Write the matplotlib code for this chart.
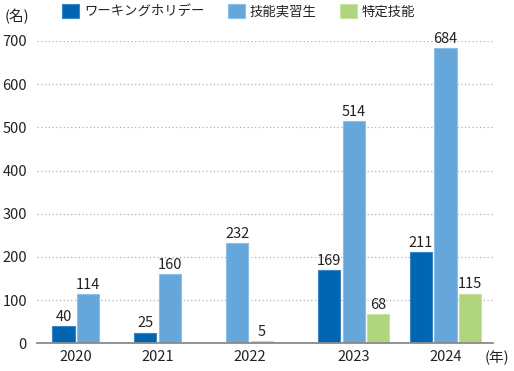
import matplotlib
matplotlib.use("Agg")
import matplotlib.pyplot as plt
from matplotlib.patches import Patch
import numpy as np

plt.rcParams['font.family'] = ['Noto Sans CJK JP', 'DejaVu Sans']

years = ["2020", "2021", "2022", "2023", "2024"]
series_names = ["ワーキングホリデー", "技能実習生", "特定技能"]
working_holiday = [40, 25, None, 169, 211]
trainees = [114, 160, 232, 514, 684]
specified_skills = [None, None, 5, 68, 115]
yticks = [0, 100, 200, 300, 400, 500, 600, 700]

# layout (axis units = pixels from the axis' left edge)
group_centers = [39.1, 120.8, 212.7, 317.1, 408.8]
bar_w = 22.3
step = 24.5
colors = ["#0066b3", "#66a7db", "#b1d57d"]
edge_colors = ["#3a86c4", "#8cc0e8", "#c8e2a2"]

fig = plt.figure(figsize=(5.14, 3.71), dpi=100)
ax = fig.add_axes([36.7/514, 1-343.3/371, 456/514, (343.3-41)/371])

series = [working_holiday, trainees, specified_skills]
for gi, gc in enumerate(group_centers):
    present = [si for si in range(3) if series[si][gi] is not None]
    n = len(present)
    for k, si in enumerate(present):
        x = gc + (k - (n-1)/2) * step
        v = series[si][gi]
        ax.bar(x, v, width=bar_w, color=colors[si], edgecolor=edge_colors[si],
               linewidth=0.8, zorder=3)
        ax.text(x, v + 5, str(v), ha='center', va='bottom', fontsize=10.5,
                color='#222222', clip_on=False, zorder=4)

ax.set_xlim(0, 456)
ax.set_ylim(0, 700)
ax.set_yticks(yticks)
ax.set_yticklabels([str(t) for t in yticks], fontsize=10.5, color='#222222')
ax.set_xticks(group_centers)
ax.set_xticklabels(years, fontsize=10.5, color='#222222')
ax.tick_params(axis='both', length=0)
ax.tick_params(axis='y', pad=7)
ax.tick_params(axis='x', pad=5)
for s in ['top', 'right', 'left']:
    ax.spines[s].set_visible(False)
ax.spines['bottom'].set_color('#8a8a8a')
ax.spines['bottom'].set_linewidth(1.3)
ax.spines['bottom'].set_zorder(5)
ax.yaxis.grid(True, linestyle=(0, (1, 2)), color='#b0b0b0', linewidth=0.9, zorder=0)
ax.set_axisbelow(True)

fig.text(5/514, 1-17/371, "(名)", fontsize=10.5, color='#222222', va='center', ha='left')
fig.text(485/514, 1-358/371, "(年)", fontsize=10.5, color='#222222', va='center', ha='left')

handles = [Patch(facecolor=colors[i], edgecolor=edge_colors[i], linewidth=0.8) for i in range(3)]
leg = fig.legend(handles, series_names, loc='upper left', bbox_to_anchor=(62/514, 1-4/371),
                 ncol=3, frameon=False, fontsize=9.6, handlelength=1.28, handleheight=1.28,
                 handletextpad=0.36, columnspacing=1.75, borderpad=0, borderaxespad=0)
for t in leg.get_texts():
    t.set_color('#222222')

fig.savefig("out.png", dpi=100)
